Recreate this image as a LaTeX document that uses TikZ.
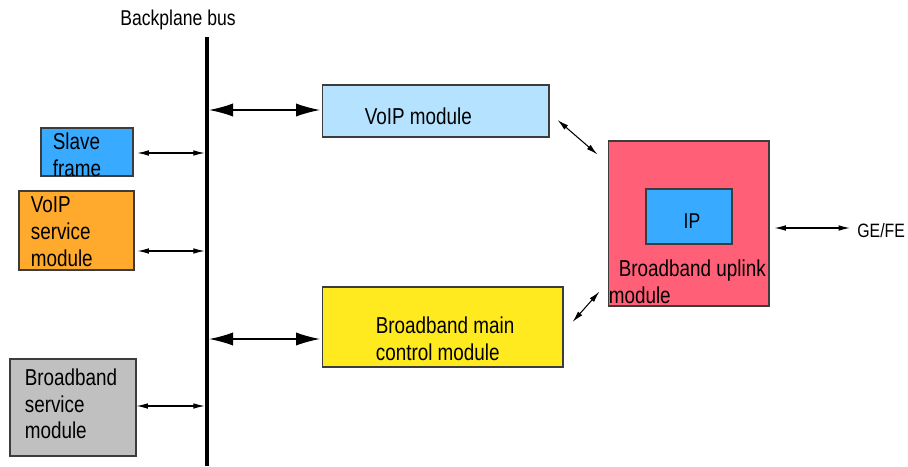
\documentclass[tikz,border=0pt]{standalone}
\usepackage{fontspec}
\setmainfont{Liberation Sans}[FakeStretch=0.82]
\usetikzlibrary{arrows.meta}

\definecolor{voipblue}{RGB}{180,226,255}
\definecolor{deepblue}{RGB}{56,170,255}
\definecolor{svcorange}{RGB}{255,170,44}
\definecolor{svcgray}{RGB}{192,192,192}
\definecolor{mainyellow}{RGB}{255,234,32}
\definecolor{uplinkred}{RGB}{255,96,120}
\definecolor{edge}{RGB}{60,60,60}

\begin{document}
\begin{tikzpicture}[x=0.02cm,y=-0.02cm,
	box/.style={draw=edge,line width=0.6pt,inner sep=0pt},
	txt/.style={inner sep=0pt,anchor=north west,align=left,font=\fontsize{13.1}{15.2}\selectfont},
	smalltxt/.style={inner sep=0pt,font=\fontsize{12.2}{14}\selectfont},
	bigarr/.style={line width=0.6pt,{Latex[length=13.5pt,width=7.5pt]}-{Latex[length=13.5pt,width=7.5pt]}},
	smallarr/.style={line width=0.6pt,{Latex[length=6.5pt,width=3.2pt]}-{Latex[length=6.5pt,width=3.2pt]}}]
	\useasboundingbox (0,0) rectangle (908,466);

	% backplane
	\coordinate (bustop) at (207,37);
	\coordinate (busbot) at (207,466);
	\draw[line width=2.3pt] (bustop) -- (busbot);
	\node[smalltxt] (buslabel) at (178,20) {Backplane bus};

	% modules on the left
	\node[box,fill=deepblue,minimum width=1.84cm,minimum height=0.96cm] (slave) at (87,152) {};
	\node[txt] at ([shift={(12,5)}]slave.north west) {Slave\\frame};
	\node[box,fill=svcorange,minimum width=2.30cm,minimum height=1.58cm] (vsvc) at (76.5,230.5) {};
	\node[txt] at ([shift={(12,6)}]vsvc.north west) {VoIP\\service\\module};
	\node[box,fill=svcgray,minimum width=2.52cm,minimum height=1.94cm] (bsvc) at (73,407.5) {};
	\node[txt] at ([shift={(15,10)}]bsvc.north west) {Broadband\\service\\module};

	% modules on the right
	\node[box,fill=voipblue,minimum width=4.54cm,minimum height=1.04cm] (voip) at (435.5,111) {};
	\node[txt] at ([shift={(43,23)}]voip.north west) {VoIP module};
	\node[box,fill=mainyellow,minimum width=4.82cm,minimum height=1.60cm] (bbmain) at (442.5,327) {};
	\node[txt] at ([shift={(54,30)}]bbmain.north west) {Broadband main\\control module};

	% uplink with IP
	\node[box,fill=uplinkred,minimum width=3.22cm,minimum height=3.30cm] (uplink) at (688.5,223.5) {};
	\node[box,fill=deepblue,minimum width=1.72cm,minimum height=1.10cm] (ip) at (689,216.5) {};
	\node[smalltxt] at ([shift={(3,5)}]ip.center) {IP};
	\node[txt] at ([shift={(1,119)}]uplink.north west) {\hspace*{5.7pt}Broadband uplink\\module};
	\node[smalltxt,anchor=west,font=\fontsize{11}{13}\selectfont] (gefe) at (857,231) {GE/FE};

	% links to the bus
	\draw[smallarr,shorten <=2.2pt,shorten >=1.3pt] ([shift={(0,1)}]slave.east) -- ([shift={(0,1)}]slave.east -| bustop);
	\draw[smallarr,shorten <=1.7pt,shorten >=1.3pt] ([shift={(0,20.5)}]vsvc.east) -- ([shift={(0,20.5)}]vsvc.east -| bustop);
	\draw[smallarr,shorten >=1.3pt] ([shift={(0,-1.5)}]bsvc.east) -- ([shift={(0,-1.5)}]bsvc.east -| bustop);
	\draw[bigarr,shorten <=1.3pt,shorten >=1pt] ([shift={(0,-1)}]voip.west -| bustop) -- ([shift={(0,-1)}]voip.west);
	\draw[bigarr,shorten <=1.3pt,shorten >=1pt] ([shift={(0,12)}]bbmain.west -| bustop) -- ([shift={(0,12)}]bbmain.west);

	% links to the uplink
	\draw[smallarr] ([shift={(8,9)}]voip.east) -- ([shift={(-10,14)}]uplink.north west);
	\draw[smallarr] ([shift={(9,-5)}]bbmain.east) -- ([shift={(-8,-15)}]uplink.south west);
	\draw[smallarr,shorten <=2.8pt,shorten >=4pt] ([shift={(0,-3)}]gefe.west -| uplink.east) -- ([shift={(0,-3)}]gefe.west);
\end{tikzpicture}
\end{document}
